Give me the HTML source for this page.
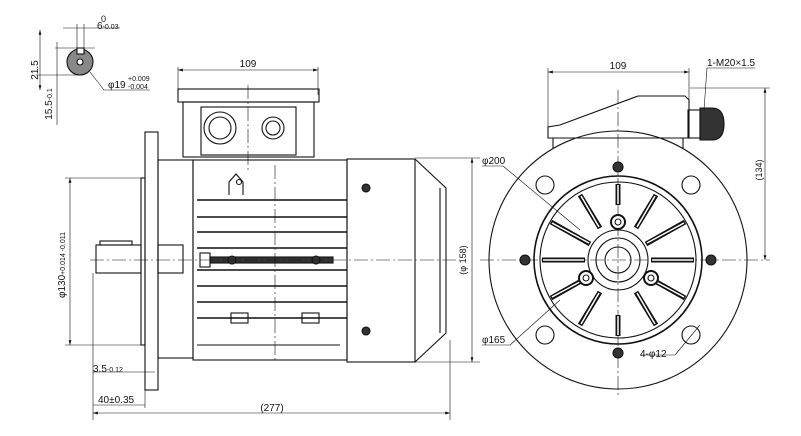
<!DOCTYPE html>
<html><head><meta charset="utf-8"><style>
html,body{margin:0;padding:0;background:#fff}
svg{display:block}
text{font-family:"Liberation Sans",sans-serif;fill:#111}
</style></head><body>
<svg width="801" height="436" viewBox="0 0 801 436" xmlns="http://www.w3.org/2000/svg">
<defs><marker id="a" viewBox="0 0 10 6" refX="10" refY="3" markerWidth="8" markerHeight="5" orient="auto-start-reverse"><path d="M0,0L10,3L0,6z" fill="#111"/></marker></defs>
<g stroke="#111" fill="none" stroke-width="1.1">
<circle cx="80" cy="62" r="13" fill="#888"/>
<circle cx="80" cy="62" r="3" fill="#fff"/>
<rect x="77" y="48" width="7" height="6" fill="#fff"/>
<line x1="55" y1="48" x2="95" y2="48" stroke-width=".6"/>
<line x1="36" y1="75" x2="80" y2="75" stroke-width=".6"/>
<line x1="40" y1="30" x2="40" y2="90" stroke-width=".6" marker-start="url(#a)" marker-end="url(#a)"/>
<line x1="57" y1="42" x2="57" y2="125" stroke-width=".6"/>
<line x1="77" y1="24" x2="77" y2="48" stroke-width=".6"/>
<line x1="84" y1="24" x2="84" y2="48" stroke-width=".6"/>
<line x1="63" y1="28" x2="120" y2="28" stroke-width=".6"/>
<line x1="90" y1="72" x2="104" y2="90" stroke-width=".6"/>
<line x1="104" y1="90" x2="150" y2="90" stroke-width=".6"/>
<rect x="145" y="132" width="13" height="258"/>
<rect x="141" y="178" width="4" height="167"/>
<rect x="96" y="245" width="45" height="28"/>
<rect x="100" y="241" width="32" height="4"/>
<rect x="158" y="160" width="35" height="198"/>
<rect x="158" y="245" width="25" height="28"/>
<rect x="193" y="160" width="154" height="200"/>
<g stroke-width="1.6">
<line x1="197" y1="200" x2="347" y2="200"/><line x1="197" y1="217" x2="347" y2="217"/>
<line x1="197" y1="232" x2="347" y2="232"/><line x1="197" y1="248" x2="347" y2="248"/>
<line x1="197" y1="270" x2="347" y2="270"/><line x1="197" y1="286" x2="347" y2="286"/>
<line x1="197" y1="302" x2="347" y2="302"/><line x1="197" y1="318" x2="347" y2="318"/>
</g>
<rect x="210" y="257" width="123" height="6" fill="#333"/>
<rect x="200" y="253" width="10" height="14"/>
<circle cx="232" cy="260" r="4" fill="#333"/><circle cx="316" cy="260" r="4" fill="#333"/>
<path d="M229,195V182l7,-8l7,8v13"/><circle cx="239" cy="182" r="2.5"/>
<rect x="231" y="313" width="17" height="10"/><rect x="302" y="313" width="17" height="10"/>
<path d="M197,345H340"/>
<rect x="347" y="159" width="68" height="203"/>
<path d="M415,159L446,188V333L415,362"/>
<line x1="440" y1="188" x2="440" y2="333"/>
<circle cx="366" cy="188" r="4" fill="#333"/><circle cx="366" cy="331" r="4" fill="#333"/>
<rect x="178" y="89" width="141" height="13"/>
<rect x="183" y="102" width="131" height="55"/>
<rect x="201" y="107" width="95" height="48"/>
<circle cx="220" cy="128" r="16"/><circle cx="220" cy="128" r="11"/>
<circle cx="273" cy="128" r="11"/><circle cx="273" cy="128" r="7"/>
<g stroke-dasharray="14,3,2,3" stroke-width=".6">
<line x1="90" y1="260" x2="460" y2="260"/><line x1="248" y1="85" x2="248" y2="170"/>
<line x1="275" y1="165" x2="275" y2="360"/>
<line x1="480" y1="260" x2="770" y2="260"/><line x1="618" y1="90" x2="618" y2="395"/>
</g>
<g stroke-width=".6">
<line x1="178" y1="70" x2="318" y2="70" marker-start="url(#a)" marker-end="url(#a)"/>
<line x1="178" y1="67" x2="178" y2="95"/><line x1="318" y1="67" x2="318" y2="95"/>
<line x1="70" y1="178" x2="70" y2="345" marker-start="url(#a)" marker-end="url(#a)"/>
<line x1="65" y1="178" x2="141" y2="178"/><line x1="65" y1="345" x2="141" y2="345"/>
<line x1="93" y1="413" x2="450" y2="413" marker-start="url(#a)" marker-end="url(#a)"/>
<line x1="93" y1="273" x2="93" y2="420"/><line x1="450" y1="340" x2="450" y2="420"/>
<line x1="93" y1="405" x2="145" y2="405"/><line x1="145" y1="390" x2="145" y2="408"/>
<line x1="93" y1="372" x2="155" y2="372"/>
<line x1="472" y1="158" x2="472" y2="362" marker-start="url(#a)" marker-end="url(#a)"/>
<line x1="415" y1="158" x2="480" y2="158"/><line x1="415" y1="362" x2="480" y2="362"/>
</g>
<circle cx="618" cy="260" r="129"/>
<circle cx="618" cy="260" r="84" stroke-width="1.6"/><circle cx="618" cy="260" r="78"/>
<circle cx="618" cy="260" r="30"/><circle cx="618" cy="260" r="22"/><circle cx="618" cy="260" r="13"/>
<g stroke-width="5">
<line x1="618" y1="184" x2="618" y2="205"/><line x1="618" y1="315" x2="618" y2="336"/>
<line x1="542" y1="260" x2="585" y2="260"/><line x1="651" y1="260" x2="694" y2="260"/>
<line x1="580" y1="195" x2="600" y2="228"/><line x1="656" y1="195" x2="636" y2="228"/>
<line x1="551" y1="222" x2="590" y2="244"/><line x1="685" y1="222" x2="646" y2="244"/>
<line x1="551" y1="298" x2="590" y2="276"/><line x1="685" y1="298" x2="646" y2="276"/>
<line x1="580" y1="325" x2="600" y2="292"/><line x1="656" y1="325" x2="636" y2="292"/>
</g>
<g stroke-width="1.5" stroke="#fff">
<line x1="618" y1="185" x2="618" y2="204"/><line x1="618" y1="316" x2="618" y2="335"/>
<line x1="543" y1="260" x2="584" y2="260"/><line x1="652" y1="260" x2="693" y2="260"/>
<line x1="581" y1="196" x2="599" y2="227"/><line x1="655" y1="196" x2="637" y2="227"/>
<line x1="552" y1="223" x2="589" y2="243"/><line x1="684" y1="223" x2="647" y2="243"/>
<line x1="552" y1="297" x2="589" y2="277"/><line x1="684" y1="297" x2="647" y2="277"/>
<line x1="581" y1="324" x2="599" y2="293"/><line x1="655" y1="324" x2="637" y2="293"/>
</g>
<circle cx="618" cy="222" r="7" fill="#fff" stroke-width="2"/><circle cx="586" cy="278" r="7" fill="#fff" stroke-width="2"/><circle cx="651" cy="278" r="7" fill="#fff" stroke-width="2"/>
<circle cx="618" cy="222" r="3"/><circle cx="586" cy="278" r="3"/><circle cx="651" cy="278" r="3"/>
<circle cx="618" cy="167" r="5" fill="#333"/><circle cx="525" cy="260" r="5" fill="#333"/>
<circle cx="711" cy="260" r="5" fill="#333"/><circle cx="618" cy="353" r="5" fill="#333"/>
<circle cx="545" cy="185" r="9"/><circle cx="691" cy="185" r="9"/>
<circle cx="545" cy="335" r="9"/><circle cx="691" cy="335" r="9"/>
<path d="M548,127V138H689V100L685,96H638L560,125Z"/>
<path d="M553,138V148M683,138V148"/>
<rect x="688" y="110" width="12" height="28"/>
<path d="M700,108h12q12,0 12,16q0,16 -12,16h-12z" fill="#333"/>
<g stroke-width=".6">
<line x1="548" y1="72" x2="689" y2="72" marker-start="url(#a)" marker-end="url(#a)"/>
<line x1="548" y1="68" x2="548" y2="127"/><line x1="689" y1="68" x2="689" y2="100"/>
<line x1="765" y1="88" x2="765" y2="260" marker-start="url(#a)" marker-end="url(#a)"/>
<line x1="690" y1="88" x2="770" y2="88"/>
<line x1="707" y1="68" x2="755" y2="68"/><line x1="707" y1="68" x2="704" y2="110"/>
<line x1="482" y1="166" x2="503" y2="166"/><line x1="503" y1="166" x2="580" y2="230"/>
<line x1="482" y1="345" x2="510" y2="345"/><line x1="510" y1="345" x2="560" y2="300"/>
<line x1="640" y1="355" x2="675" y2="355"/><line x1="675" y1="355" x2="700" y2="325"/>
</g>
</g>
<g font-size="10">
<text x="101" y="22" font-size="9">0</text><text x="97" y="29">6<tspan font-size="7">-0.03</tspan></text>
<text x="38" y="70" transform="rotate(-90 38 70)" text-anchor="middle">21.5</text>
<text x="52" y="104" transform="rotate(-90 52 104)" text-anchor="middle">15.5<tspan font-size="7">-0.1</tspan></text>
<text x="108" y="88">φ19</text><text x="128" y="81" font-size="7">+0.009</text><text x="128" y="89" font-size="7">-0.004</text>
<text x="248" y="67" text-anchor="middle">109</text>
<text x="65" y="265" transform="rotate(-90 65 265)" text-anchor="middle">φ130<tspan font-size="7">+0.014 -0.011</tspan></text>
<text x="93" y="372">3.5<tspan font-size="7">-0.12</tspan></text>
<text x="98" y="403">40±0.35</text>
<text x="272" y="411" text-anchor="middle">(277)</text>
<text x="466" y="260" transform="rotate(-90 466 260)" text-anchor="middle" font-size="9">(φ 158)</text>
<text x="618" y="69" text-anchor="middle">109</text>
<text x="707" y="66">1-M20×1.5</text>
<text x="762" y="170" transform="rotate(-90 762 170)" text-anchor="middle" font-size="9">(134)</text>
<text x="482" y="164">φ200</text>
<text x="482" y="343">φ165</text>
<text x="640" y="357">4-φ12</text>
</g>
</svg>
</body></html>
